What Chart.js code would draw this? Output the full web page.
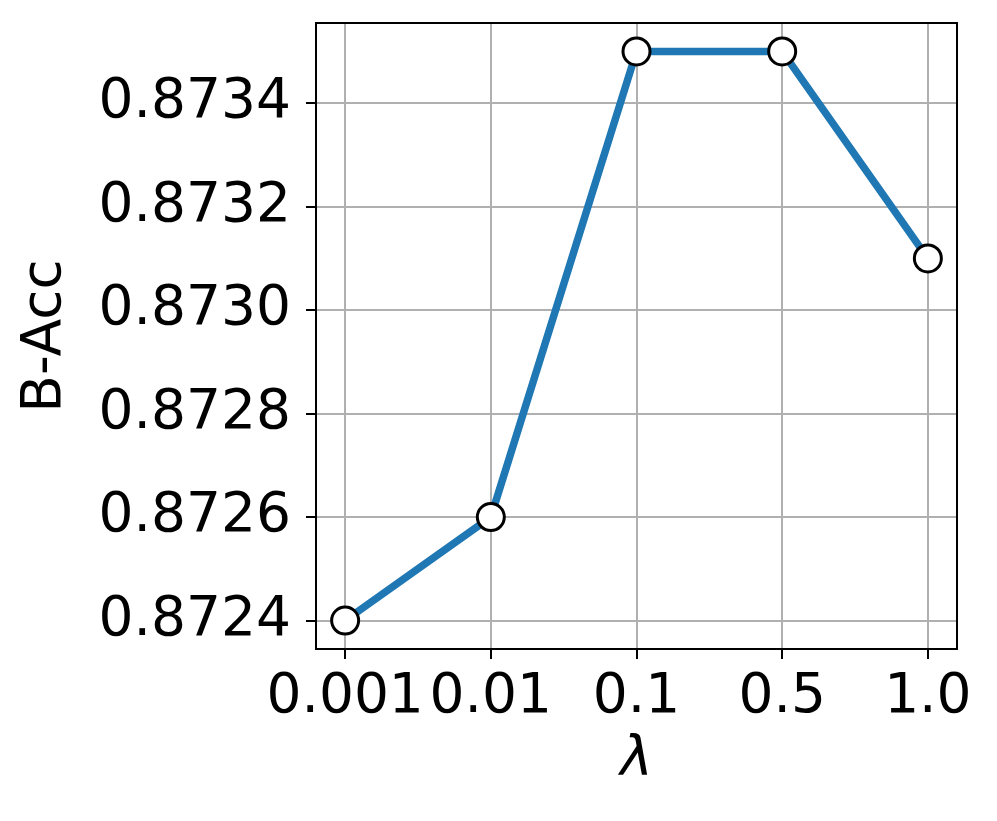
<!DOCTYPE html>
<html>
<head>
<meta charset="utf-8">
<script src="https://cdn.jsdelivr.net/npm/chart.js@4.4.1/dist/chart.umd.min.js"></script>
<style>
  body { margin: 0; background: #fff; }
  #wrap { width: 997px; height: 821px; }
</style>
</head>
<body>
<div id="wrap"><canvas id="grafica"></canvas></div>
<script>
// lambda values on the x axis, and the B-Acc for each one
var lambdas = ["0.001", "0.01", "0.1", "0.5", "1.0"];
var bAcc = [0.8724, 0.8726, 0.8735, 0.8735, 0.8731];
var yTicks = [0.8724, 0.8726, 0.8728, 0.8730, 0.8732, 0.8734];

var FONT = "'DejaVu Sans', sans-serif";

// black frame all round the plot area, like the matplotlib spines
var marc = {
    id: 'marc',
    afterDatasetsDraw: function (chart) {
        var a = chart.chartArea;
        var ctx = chart.ctx;
        ctx.save();
        ctx.strokeStyle = '#000';
        ctx.lineWidth = 2;
        ctx.strokeRect(a.left, a.top, a.right - a.left, a.bottom - a.top);
        ctx.restore();
    }
};

var punts = bAcc.map(function (v, i) { return { x: i, y: v }; });

new Chart(document.getElementById('grafica'), {
    type: 'line',
    data: {
        datasets: [{
            data: punts,
            borderColor: '#1f77b4',
            borderWidth: 7.5,
            pointRadius: 13.5,
            pointHoverRadius: 13.5,
            pointBackgroundColor: '#fff',
            pointBorderColor: '#000',
            pointBorderWidth: 3,
            tension: 0
        }]
    },
    options: {
        responsive: true,
        maintainAspectRatio: false,
        animation: false,
        layout: { padding: { top: 23, right: 40, left: 0, bottom: 0 } },
        plugins: { legend: { display: false }, tooltip: { enabled: false } },
        scales: {
            x: {
                type: 'linear',
                min: -0.2,
                max: 4.2,
                afterBuildTicks: function (s) {
                    s.ticks = lambdas.map(function (l, i) { return { value: i }; });
                },
                afterFit: function (s) {
                    s.height = 172;
                    s.paddingLeft = 0;
                    s.paddingRight = 0;
                },
                grid: { color: '#b0b0b0', lineWidth: 2, tickColor: '#000', tickLength: 10, tickWidth: 2 },
                border: { color: '#000', width: 2 },
                ticks: {
                    color: '#000',
                    padding: 6,
                    maxRotation: 0,
                    autoSkip: false,
                    font: { family: FONT, size: 55 },
                    callback: function (v) { return lambdas[v]; }
                },
                title: {
                    display: true,
                    text: 'λ',
                    color: '#000',
                    font: { family: FONT, size: 55, style: 'italic' },
                    padding: { top: 0, bottom: 27 }
                }
            },
            y: {
                min: 0.872345,
                max: 0.873555,
                afterBuildTicks: function (s) {
                    s.ticks = yTicks.map(function (v) { return { value: v }; });
                },
                afterFit: function (s) {
                    s.width = 316;
                    s.paddingTop = 0;
                    s.paddingBottom = 0;
                },
                grid: { color: '#b0b0b0', lineWidth: 2, tickColor: '#000', tickLength: 10, tickWidth: 2 },
                border: { color: '#000', width: 2 },
                ticks: {
                    color: '#000',
                    padding: 15,
                    font: { family: FONT, size: 55 },
                    callback: function (v) { return v.toFixed(4); }
                },
                title: {
                    display: true,
                    text: 'B-Acc',
                    color: '#000',
                    font: { family: FONT, size: 55 },
                    padding: { top: 13, bottom: 0 }
                }
            }
        }
    },
    plugins: [marc]
});
</script>
</body>
</html>
